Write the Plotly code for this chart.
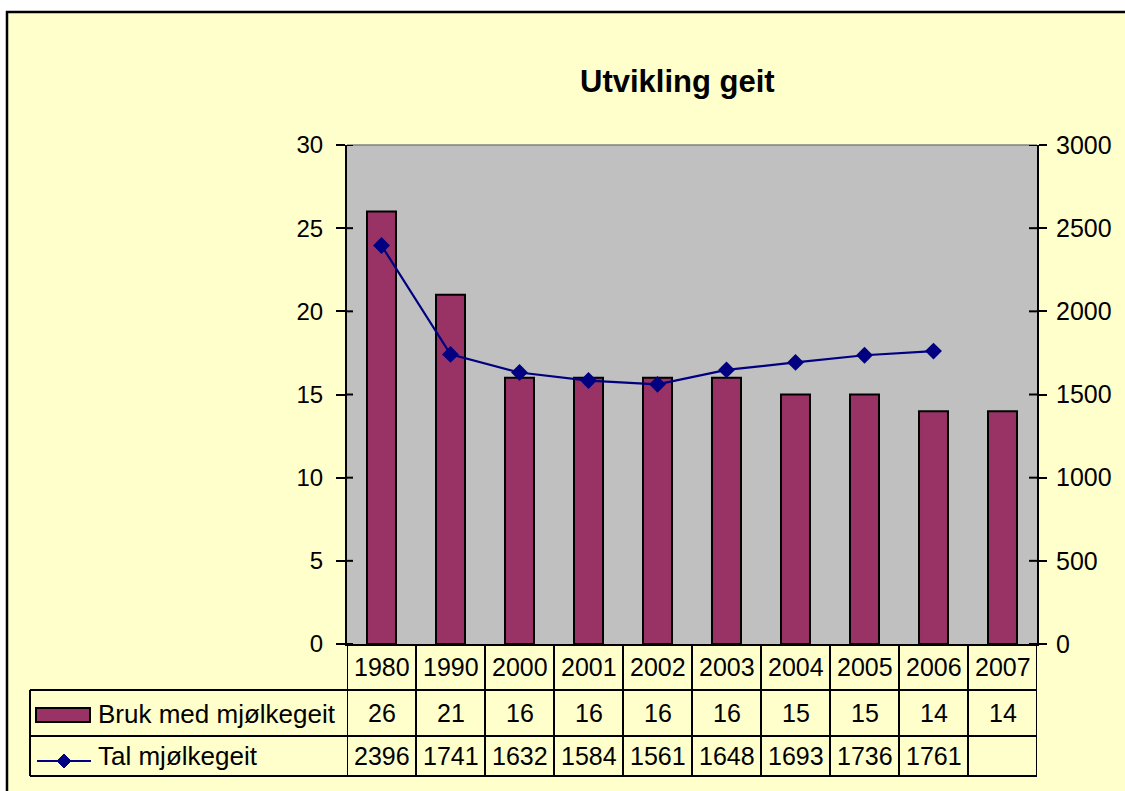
import plotly.graph_objects as go

years = ["1980", "1990", "2000", "2001", "2002", "2003", "2004", "2005", "2006", "2007"]
bruk = [26, 21, 16, 16, 16, 16, 15, 15, 14, 14]
tal = [2396, 1741, 1632, 1584, 1561, 1648, 1693, 1736, 1761, None]
left_ticks = [0, 5, 10, 15, 20, 25, 30]
right_ticks = [0, 500, 1000, 1500, 2000, 2500, 3000]
series_names = ["Bruk med mjølkegeit", "Tal mjølkegeit"]
title_text = "Utvikling geit"

W, H = 1125, 791
L, R, T, B = 347, 1037, 145, 644
FONT = "Arial, Liberation Sans, sans-serif"
BAR = "#993366"
LINE = "#000080"
BG = "#FFFFCC"


def px(x):
    return (x - L) / (R - L)


def py(y):
    return (B - y) / (B - T)


fig = go.Figure()
fig.add_trace(go.Bar(x=years, y=bruk, name=series_names[0], width=0.42,
                     marker=dict(color=BAR, line=dict(color="black", width=2)),
                     yaxis="y"))
fig.add_trace(go.Scatter(x=years, y=tal, name=series_names[1], mode="lines+markers",
                         line=dict(color=LINE, width=2.2),
                         marker=dict(symbol="diamond", size=13, color=LINE),
                         yaxis="y2"))

shapes = []
blk = dict(color="black", width=2)
# outer white margins and border
shapes.append(dict(type="rect", xref="paper", yref="paper", x0=px(-10), x1=px(W + 10),
                   y0=py(-10), y1=py(11), fillcolor="white", line=dict(width=0), layer="above"))
shapes.append(dict(type="rect", xref="paper", yref="paper", x0=px(-10), x1=px(6),
                   y0=py(-10), y1=py(H + 10), fillcolor="white", line=dict(width=0), layer="above"))
shapes.append(dict(type="line", xref="paper", yref="paper", x0=px(6), x1=px(W + 10),
                   y0=py(12), y1=py(12), line=dict(color="black", width=2.5)))
shapes.append(dict(type="line", xref="paper", yref="paper", x0=px(7), x1=px(7),
                   y0=py(11), y1=py(H + 10), line=dict(color="black", width=2.5)))
# plot top border
shapes.append(dict(type="line", xref="paper", yref="paper", x0=0, x1=1, y0=1, y1=1,
                   line=dict(color="#808080", width=1.5)))
# inside tick parts
for v in left_ticks:
    shapes.append(dict(type="line", xref="paper", yref="y", x0=0, x1=px(L + 6), y0=v, y1=v, line=blk))
for v in right_ticks:
    shapes.append(dict(type="line", xref="paper", yref="y2", x0=px(R - 8), x1=1, y0=v, y1=v, line=blk))

# data table
r1, r2, r3 = 690, 736, 776
for yy in (r1, r2, r3):
    shapes.append(dict(type="line", xref="paper", yref="paper", x0=px(30), x1=1,
                       y0=py(yy), y1=py(yy), line=blk))
shapes.append(dict(type="line", xref="paper", yref="paper", x0=px(30), x1=px(30),
                   y0=py(r1), y1=py(r3), line=blk))
for i in range(len(years) + 1):
    shapes.append(dict(type="line", xref="x", yref="paper", x0=i - 0.5, x1=i - 0.5,
                       y0=0, y1=py(r3), line=blk))
# legend keys
shapes.append(dict(type="rect", xref="paper", yref="paper", x0=px(36), x1=px(90),
                   y0=py(722), y1=py(708), fillcolor=BAR, line=dict(color="black", width=2)))
shapes.append(dict(type="line", xref="paper", yref="paper", x0=px(37), x1=px(91),
                   y0=py(761), y1=py(761), line=dict(color=LINE, width=2.2)))
cx, cy, d = 64, 761, 7
shapes.append(dict(type="path", xref="paper", yref="paper",
                   path=f"M {px(cx-d)} {py(cy)} L {px(cx)} {py(cy-d)} L {px(cx+d)} {py(cy)} L {px(cx)} {py(cy+d)} Z",
                   fillcolor=LINE, line=dict(color=LINE, width=1)))

ann = []
tf = dict(family=FONT, size=25, color="black")
for i, yr in enumerate(years):
    ann.append(dict(x=i, xref="x", y=py((B + r1) / 2), yref="paper", text=yr, showarrow=False,
                    font=tf, xanchor="center", yanchor="middle"))
    ann.append(dict(x=i, xref="x", y=py((r1 + r2) / 2), yref="paper", text=str(bruk[i]),
                    showarrow=False, font=tf, xanchor="center", yanchor="middle"))
    if tal[i] is not None:
        ann.append(dict(x=i, xref="x", y=py((r2 + r3) / 2), yref="paper", text=str(tal[i]),
                        showarrow=False, font=tf, xanchor="center", yanchor="middle"))
lf = dict(family=FONT, size=26, color="black")
ann.append(dict(x=px(96), xref="paper", y=py((r1 + r2) / 2 + 1), yref="paper", text=series_names[0],
                showarrow=False, font=lf, xanchor="left", yanchor="middle"))
ann.append(dict(x=px(96), xref="paper", y=py((r2 + r3) / 2), yref="paper", text=series_names[1],
                showarrow=False, font=lf, xanchor="left", yanchor="middle"))
ann.append(dict(x=px(677), xref="paper", y=py(81), yref="paper", text="<b>" + title_text + "</b>",
                showarrow=False, font=dict(family=FONT, size=31, color="black"),
                xanchor="center", yanchor="middle"))

fig.update_layout(
    width=W, height=H,
    margin=dict(l=L, r=W - R, t=T, b=H - B, pad=0),
    paper_bgcolor=BG, plot_bgcolor="#C0C0C0",
    showlegend=False, bargap=0.5,
    font=dict(family=FONT, size=24, color="black"),
    xaxis=dict(type="category", range=[-0.5, 9.5], showticklabels=False, ticks="",
               showgrid=False, showline=True, linecolor="black", linewidth=2, zeroline=False,
               fixedrange=True),
    yaxis=dict(range=[0, 30], tickvals=left_ticks, ticks="outside", ticklen=9, tickwidth=2,
               tickcolor="black", showgrid=False, zeroline=False, showline=True,
               linecolor="black", linewidth=2, ticklabelstandoff=8,
               tickfont=dict(family=FONT, size=24, color="black")),
    yaxis2=dict(range=[0, 3000], tickvals=right_ticks, overlaying="y", side="right",
                ticks="outside", ticklen=8, tickwidth=2, tickcolor="black", showgrid=False,
                zeroline=False, showline=True, linecolor="black", linewidth=2,
                ticklabelstandoff=4, tickfont=dict(family=FONT, size=25, color="black")),
    shapes=shapes, annotations=ann,
)

fig.write_html("out.html", config={"displayModeBar": False},
               post_script="document.body.style.margin='0';document.body.style.overflow='hidden';")
